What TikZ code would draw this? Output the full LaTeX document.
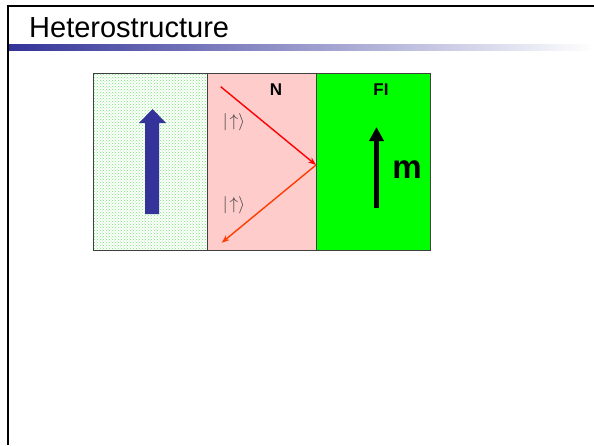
\documentclass[tikz,border=0pt]{standalone}
\usepackage{fontspec}
\setmainfont{Liberation Sans}
\usetikzlibrary{arrows.meta,patterns,positioning}

\definecolor{slideblue}{RGB}{51,51,153}
\definecolor{npink}{RGB}{255,204,204}
\definecolor{figreen}{RGB}{0,255,0}
\definecolor{dotgreen}{RGB}{110,235,110}
\definecolor{rayorange}{RGB}{255,60,0}

\begin{document}
\begin{tikzpicture}[x=1pt, y=-1pt,
    layer/.style={draw=black!75, line width=0.8pt, minimum height=177pt,
      inner sep=0pt, outer sep=0pt, anchor=north west},
    tag/.style={font=\bfseries\fontsize{17}{20}\selectfont},
    ket/.style={text=black!75, font=\fontsize{19}{22}\selectfont},
    ray/.style={-{Stealth[length=8pt,width=6pt]}, line width=1.4pt}]
  \useasboundingbox (0,0) rectangle (594,445);
  % slide frame and title
  \draw[line width=2.2pt] (8,445) -- (8,6) -- (594,6);
  \shade[left color=slideblue, right color=white] (9,44) rectangle (594,50);
  \node[anchor=base west, inner sep=0pt, font=\fontsize{29}{32}\selectfont]
    (title) at (29,37) {Heterostructure};
  % three layers
  \node[layer, minimum width=114pt, pattern=crosshatch dots, pattern color=dotgreen]
    (ferro) at (93,73) {};
  \node[layer, minimum width=109pt, fill=npink, right=0pt of ferro] (normal) {};
  \node[layer, minimum width=114pt, fill=figreen, right=0pt of normal] (insul) {};
  \node[tag] (nlab) at (276,90) {N};
  \node[tag] (filab) at (381,90) {FI};
  % spin of the ferromagnet
  \fill[slideblue] (145,214) -- (145,123) -- (139,123) -- (152.5,109)
    -- (166,123) -- (159,123) -- (159,214) -- cycle;
  % reflected electron
  \coordinate (src) at (220.7,86.7);
  \coordinate (hit) at (316,165);
  \coordinate (dst) at (221.7,242.7);
  \draw[ray, red] (src) -- (hit);
  \draw[ray, rayorange] (hit) -- (dst);
  \node[ket] (kin) at (234,122) {$|\!\uparrow\rangle$};
  \node[ket] (kout) at (234,205) {$|\!\uparrow\rangle$};
  % magnetisation
  \coordinate (mtail) at (376.5,208);
  \coordinate (mhead) at (376.5,127);
  \draw[-{Triangle[length=14pt,width=14pt]}, line width=4.5pt] (mtail) -- (mhead);
  \node[font=\bfseries\fontsize{33}{36}\selectfont] (mlab) at (407,170) {m};
\end{tikzpicture}
\end{document}
